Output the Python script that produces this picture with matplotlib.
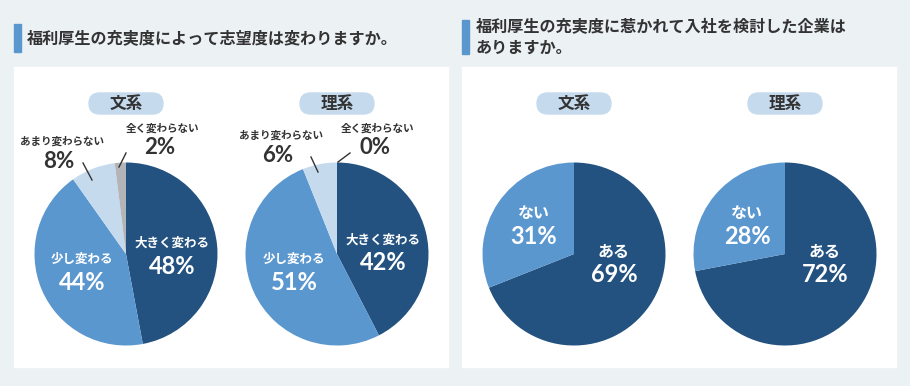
import matplotlib
matplotlib.use("Agg")
import matplotlib.pyplot as plt
from matplotlib.patches import Rectangle, FancyBboxPatch

plt.rcParams['font.family'] = ['Noto Sans CJK JP', 'DejaVu Sans']
num_font = ['Lato', 'DejaVu Sans']

# データ
q1_title = "福利厚生の充実度によって志望度は変わりますか。"
q2_title = "福利厚生の充実度に惹かれて入社を検討した企業は\nありますか。"
groups = ["文系", "理系"]
q1_labels = ["大きく変わる", "少し変わる", "あまり変わらない", "全く変わらない"]
q1_bunkei = [48, 44, 8, 2]
q1_rikei = [42, 51, 6, 0]
q2_labels = ["ある", "ない"]
q2_bunkei = [69, 31]
q2_rikei = [72, 28]

bg = "#ECF1F4"
dark = "#235280"
mid = "#5B97CF"
light = "#C6DAEE"
grey = "#B2B4B8"
text_c = "#333333"

fig = plt.figure(figsize=(9.1, 3.86), dpi=100, facecolor=bg)
ax = fig.add_axes([0, 0, 1, 1])
ax.set_facecolor(bg)

# パネル
for x0 in (14, 462):
    ax.add_patch(Rectangle((x0, 67), 434, 300, color="white", zorder=0))

# タイトル
ax.add_patch(Rectangle((14, 24), 7, 28, color=mid, zorder=1))
ax.text(27, 38, q1_title, fontsize=11.6, fontweight="bold", color=text_c,
        va="center", ha="left")
ax.add_patch(Rectangle((462, 20), 7, 34, color=mid, zorder=1))
ax.text(476, 37, q2_title, fontsize=11.6, fontweight="bold", color=text_c,
        va="center", ha="left", linespacing=1.35)

R = 91.5
cy = 254


def pill(cx, label):
    ax.add_patch(FancyBboxPatch((cx - 37, 93), 74, 21,
                                boxstyle="round,pad=0,rounding_size=10.5",
                                color=light, zorder=1))
    ax.text(cx, 103.5, label, fontsize=12, fontweight="bold", color=text_c,
            ha="center", va="center")


def draw_pie(cx, values, colors):
    ax.pie(values, colors=colors, startangle=-90, counterclock=True,
           center=(cx, cy), radius=R, wedgeprops=dict(linewidth=0))


def inner(cx, dx, dy, label, val, fs1=9, fs2=17):
    ax.text(cx + dx, cy + dy - 11, label, fontsize=fs1, fontweight="bold",
            color="white", ha="center", va="center")
    ax.text(cx + dx, cy + dy + 12, f"{val}%", fontsize=fs2, fontweight="bold",
            family=num_font, color="white", ha="center", va="center")


def outer(x, y, label, val, line):
    ax.text(x, y, label, fontsize=7.6, fontweight="bold", color=text_c,
            ha="center", va="center")
    ax.text(x - 3, y + 20, f"{val}%", fontsize=16, fontweight="bold",
            family=num_font, color=text_c, ha="center", va="center")
    ax.plot(line[0], line[1], color=text_c, lw=1)


q1_colors = [dark, mid, light, grey]

# 左パネル
pill(126, groups[0])
draw_pie(126, q1_bunkei, q1_colors)
inner(126, 46, 0, q1_labels[0], q1_bunkei[0])
inner(126, -44, 16, q1_labels[1], q1_bunkei[1])
outer(62, 141, q1_labels[2], q1_bunkei[2], ([83, 92], [163, 180]))
outer(163, 128, q1_labels[3], q1_bunkei[3], ([126, 119], [153, 167]))

pill(337, groups[1])
draw_pie(337, q1_rikei, q1_colors)
inner(337, 46, -3, q1_labels[0], q1_rikei[0])
inner(337, -43, 16, q1_labels[1], q1_rikei[1])
outer(281, 135, q1_labels[2], q1_rikei[2], ([311, 318], [157, 172]))
outer(378, 128, q1_labels[3], q1_rikei[3], ([350, 338], [153, 162]))

# 右パネル
q2_colors = [dark, mid]
pill(574, groups[0])
draw_pie(574, q2_bunkei, q2_colors)
inner(574, 40, 9, q2_labels[0], q2_bunkei[0], fs1=11.5)
inner(574, -40, -30, q2_labels[1], q2_bunkei[1], fs1=11.5)

pill(785, groups[1])
draw_pie(785, q2_rikei, q2_colors)
inner(785, 40, 9, q2_labels[0], q2_rikei[0], fs1=11.5)
inner(785, -38, -30, q2_labels[1], q2_rikei[1], fs1=11.5)

ax.set_xlim(0, 910)
ax.set_ylim(386, 0)
ax.set_aspect("equal")
ax.axis("off")

fig.savefig("out.png", dpi=100, facecolor=bg)
